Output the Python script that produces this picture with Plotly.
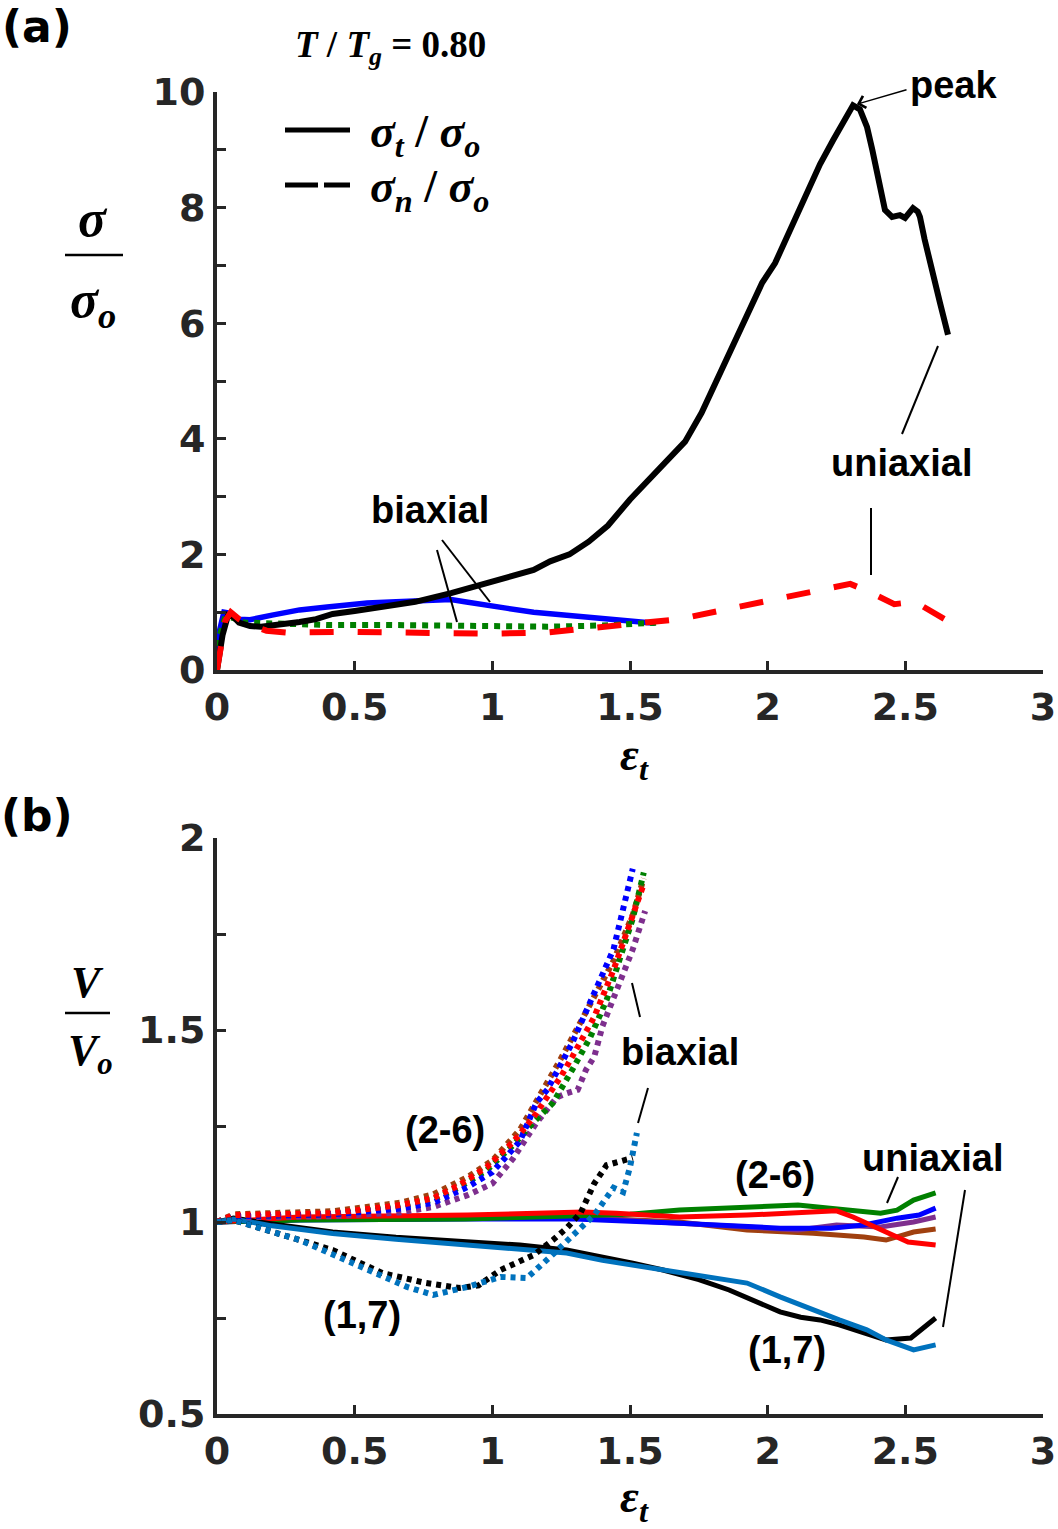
import plotly.graph_objects as go

W, H = 1058, 1529

# ---------------- Panel (a) data ----------------
a_uni_t_x = [0, 0.02, 0.04, 0.06, 0.08, 0.12, 0.16, 0.22, 0.30, 0.36, 0.42, 0.50, 0.60, 0.72, 0.85, 0.92,
             0.99, 1.07, 1.15, 1.21, 1.28, 1.35, 1.42, 1.50, 1.56, 1.62, 1.70, 1.76, 1.80, 1.856, 1.90,
             1.936, 1.98, 2.027, 2.07, 2.10, 2.143, 2.19, 2.238, 2.28, 2.31, 2.335, 2.361, 2.38, 2.397,
             2.415, 2.426, 2.452, 2.48, 2.499, 2.515, 2.528, 2.545, 2.553, 2.57, 2.59, 2.626, 2.655]
a_uni_t_y = [0, 0.6, 0.95, 0.92, 0.82, 0.76, 0.75, 0.78, 0.83, 0.88, 0.97, 1.02, 1.09, 1.18, 1.33, 1.42,
             1.50, 1.62, 1.73, 1.88, 2.00, 2.22, 2.50, 2.95, 3.25, 3.55, 3.95, 4.45, 4.85, 5.40, 5.85,
             6.26, 6.70, 7.04, 7.50, 7.85, 8.25, 8.75, 9.17, 9.55, 9.77, 9.70, 9.39, 9.00, 8.65,
             8.20, 7.96, 7.84, 7.87, 7.82, 7.92, 7.99, 7.93, 7.84, 7.45, 7.09, 6.35, 5.80]

a_bi_t_x = [0, 0.01, 0.025, 0.05, 0.08, 0.12, 0.2, 0.3, 0.4, 0.545, 0.65, 0.72, 0.85, 0.9, 0.97,
            1.05, 1.15, 1.27, 1.35, 1.45, 1.52, 1.59]
a_bi_t_y = [0, 0.7, 1.0, 0.98, 0.88, 0.87, 0.95, 1.04, 1.09, 1.16, 1.18, 1.19, 1.22, 1.18, 1.12,
            1.07, 1.00, 0.95, 0.93, 0.88, 0.86, 0.81]

a_bi_n_x = [0, 0.01, 0.03, 0.06, 0.1, 0.2, 0.4, 0.6, 0.85, 1.0, 1.2, 1.4, 1.6]
a_bi_n_y = [0, 0.6, 0.92, 0.9, 0.82, 0.8, 0.78, 0.78, 0.77, 0.74, 0.75, 0.77, 0.82]

a_uni_n_x = [0, 0.015, 0.03, 0.05, 0.08, 0.12, 0.18, 0.25, 0.5, 0.8, 1.0, 1.2, 1.28, 1.45, 1.6, 1.68,
             1.85, 2.02, 2.19, 2.30, 2.37, 2.46, 2.535, 2.615, 2.66]
a_uni_n_y = [0, 0.4, 0.85, 1.0, 0.88, 0.78, 0.68, 0.65, 0.66, 0.64, 0.63, 0.65, 0.69, 0.75, 0.83, 0.88,
             1.05, 1.21, 1.38, 1.49, 1.35, 1.14, 1.18, 0.97, 0.83]

# ---------------- Panel (b) data ----------------
# uniaxial (solid)
b_uni_black_x = [0, 0.06, 0.2, 0.42, 0.65, 0.91, 1.1, 1.27, 1.4, 1.51, 1.62, 1.75, 1.86, 1.95, 2.045,
                 2.12, 2.19, 2.26, 2.36, 2.43, 2.52, 2.56, 2.61]
b_uni_black_y = [1.0, 1.01, 0.995, 0.974, 0.96, 0.948, 0.94, 0.927, 0.91, 0.893, 0.875, 0.85, 0.823, 0.795,
                 0.766, 0.752, 0.745, 0.732, 0.711, 0.693, 0.698, 0.72, 0.75]
b_uni_lblue_x = [0, 0.06, 0.2, 0.42, 0.65, 0.91, 1.1, 1.27, 1.4, 1.51, 1.62, 1.75, 1.925, 2.045, 2.165,
                 2.26, 2.36, 2.43, 2.53, 2.61]
b_uni_lblue_y = [1.0, 1.008, 0.99, 0.97, 0.955, 0.94, 0.93, 0.919, 0.9, 0.888, 0.877, 0.862, 0.841, 0.805,
                 0.77, 0.745, 0.719, 0.693, 0.667, 0.68]
b_uni_green_x = [0, 0.3, 0.9, 1.2, 1.5, 1.68, 1.925, 2.11, 2.29, 2.41, 2.47, 2.53, 2.61]
b_uni_green_y = [1.0, 1.005, 1.008, 1.013, 1.02, 1.031, 1.039, 1.044, 1.031, 1.023, 1.031, 1.057, 1.076]
b_uni_red_x = [0, 0.3, 0.91, 1.33, 1.45, 1.68, 1.925, 2.11, 2.25, 2.31, 2.41, 2.51, 2.61]
b_uni_red_y = [1.0, 1.013, 1.018, 1.026, 1.023, 1.013, 1.018, 1.023, 1.029, 1.013, 0.979, 0.948, 0.940]
b_uni_blue_x = [0, 0.3, 0.9, 1.3, 1.68, 2.045, 2.23, 2.35, 2.47, 2.55, 2.61]
b_uni_blue_y = [1.0, 1.005, 1.008, 1.008, 0.997, 0.984, 0.984, 0.992, 1.01, 1.018, 1.036]
b_uni_purple_x = [0, 0.3, 1.27, 1.51, 1.68, 1.925, 2.11, 2.25, 2.41, 2.53, 2.61]
b_uni_purple_y = [1.0, 1.008, 1.013, 1.005, 0.997, 0.987, 0.979, 0.992, 0.987, 1.0, 1.013]
b_uni_brown_x = [0, 0.3, 1.27, 1.51, 1.68, 1.925, 2.165, 2.35, 2.43, 2.53, 2.61]
b_uni_brown_y = [1.0, 1.008, 1.013, 1.005, 1.0, 0.979, 0.971, 0.961, 0.953, 0.974, 0.982]

# biaxial (dotted)
b_bi_red_x = [0, 0.06, 0.42, 0.665, 0.785, 0.88, 0.98, 1.075, 1.15, 1.20, 1.25, 1.29, 1.37, 1.44, 1.49, 1.55]
b_bi_red_y = [1.0, 1.018, 1.023, 1.044, 1.062, 1.096, 1.143, 1.208, 1.273, 1.325, 1.38, 1.43, 1.534, 1.656,
              1.76, 1.88]
b_bi_blue_x = [0, 0.06, 0.42, 0.665, 0.785, 0.91, 1.0, 1.1, 1.16, 1.20, 1.29, 1.37, 1.44, 1.51]
b_bi_blue_y = [1.0, 1.015, 1.02, 1.035, 1.05, 1.091, 1.13, 1.21, 1.31, 1.345, 1.466, 1.60, 1.71, 1.92]
b_bi_green_x = [0, 0.06, 0.42, 0.665, 0.785, 0.88, 0.98, 1.075, 1.15, 1.22, 1.29, 1.355, 1.415, 1.46,
                1.51, 1.55]
b_bi_green_y = [1.0, 1.015, 1.02, 1.04, 1.058, 1.09, 1.135, 1.20, 1.26, 1.31, 1.396, 1.48, 1.578, 1.68,
                1.79, 1.91]
b_bi_brown_x = [0, 0.06, 0.42, 0.665, 0.785, 0.91, 1.0, 1.1, 1.245, 1.32, 1.44, 1.51, 1.55]
b_bi_brown_y = [1.0, 1.02, 1.028, 1.05, 1.072, 1.117, 1.16, 1.24, 1.42, 1.518, 1.68, 1.80, 1.895]
b_bi_purple_x = [0, 0.06, 0.42, 0.665, 0.785, 0.91, 1.0, 1.075, 1.16, 1.235, 1.27, 1.31, 1.34, 1.37,
                 1.40, 1.46, 1.51, 1.555]
b_bi_purple_y = [1.0, 1.012, 1.015, 1.025, 1.039, 1.07, 1.10, 1.165, 1.258, 1.325, 1.335, 1.344, 1.396,
                 1.43, 1.51, 1.62, 1.71, 1.81]
b_bi_black_x = [0, 0.06, 0.18, 0.42, 0.60, 0.76, 0.88, 0.95, 1.03, 1.15, 1.22, 1.27, 1.32, 1.37, 1.415,
                1.46, 1.51]
b_bi_black_y = [1.0, 1.005, 0.979, 0.927, 0.867, 0.841, 0.828, 0.835, 0.875, 0.914, 0.953, 0.984, 1.023,
                1.10, 1.148, 1.156, 1.167]
b_bi_lblue_x = [0, 0.06, 0.30, 0.545, 0.69, 0.785, 0.91, 1.03, 1.125, 1.21, 1.27, 1.37, 1.44, 1.475,
                1.50, 1.525]
b_bi_lblue_y = [1.0, 1.005, 0.953, 0.875, 0.831, 0.81, 0.831, 0.857, 0.854, 0.909, 0.948, 1.018, 1.089,
                1.078, 1.143, 1.232]

# tick labels
x_tickvals = [0, 0.5, 1, 1.5, 2, 2.5, 3]
x_ticktext = ["0", "0.5", "1", "1.5", "2", "2.5", "3"]
ya_tickvals = list(range(0, 11))
ya_ticktext = ["0", "", "2", "", "4", "", "6", "", "8", "", "10"]
yb_tickvals = [0.5, 0.75, 1.0, 1.25, 1.5, 1.75, 2.0]
yb_ticktext = ["0.5", "", "1", "", "1.5", "", "2"]

BLUE = "#0000FF"
GREEN = "#008000"
RED = "#FF0000"
BROWN = "#A0400F"
PURPLE = "#7E2F8E"
LBLUE = "#0072BD"
BLACK = "#000000"


def px(x):
    return x / W


def py(y):
    return 1 - y / H


fig = go.Figure()


def add(x, y, color, width, dash, xa, ya):
    fig.add_trace(go.Scatter(x=x, y=y, mode="lines", showlegend=False, hoverinfo="skip",
                             line=dict(color=color, width=width, dash=dash),
                             xaxis=xa, yaxis=ya))


# panel (a)
add(a_bi_t_x, a_bi_t_y, BLUE, 5.5, "solid", "x", "y")
add(a_bi_n_x, a_bi_n_y, GREEN, 6, "6px,6px", "x", "y")
add(a_uni_t_x, a_uni_t_y, BLACK, 6, "solid", "x", "y")
add(a_uni_n_x, a_uni_n_y, RED, 6, "24px,24px", "x", "y")

# panel (b) uniaxial solid
for xs, ys, c in [(b_uni_brown_x, b_uni_brown_y, BROWN), (b_uni_purple_x, b_uni_purple_y, PURPLE),
                  (b_uni_blue_x, b_uni_blue_y, BLUE), (b_uni_green_x, b_uni_green_y, GREEN),
                  (b_uni_red_x, b_uni_red_y, RED), (b_uni_black_x, b_uni_black_y, BLACK),
                  (b_uni_lblue_x, b_uni_lblue_y, LBLUE)]:
    add(xs, ys, c, 5, "solid", "x2", "y2")
# panel (b) biaxial dotted
for xs, ys, c in [(b_bi_purple_x, b_bi_purple_y, PURPLE), (b_bi_brown_x, b_bi_brown_y, BROWN),
                  (b_bi_green_x, b_bi_green_y, GREEN), (b_bi_blue_x, b_bi_blue_y, BLUE),
                  (b_bi_red_x, b_bi_red_y, RED), (b_bi_black_x, b_bi_black_y, BLACK),
                  (b_bi_lblue_x, b_bi_lblue_y, LBLUE)]:
    add(xs, ys, c, 6, "5px,5px", "x2", "y2")

AX = "#262626"
tickfont = dict(family="DejaVu Sans", size=38, color=AX, weight="bold")
axis_common = dict(showline=True, linecolor=AX, linewidth=4, ticks="inside", ticklen=9, tickwidth=3,
                   tickcolor=AX, showgrid=False, zeroline=False, tickfont=tickfont, mirror=False,
                   automargin=False)

fig.update_layout(
    width=W, height=H, margin=dict(l=0, r=0, t=0, b=0, pad=0, autoexpand=False),
    paper_bgcolor="white", plot_bgcolor="white",
    xaxis=dict(domain=[px(217), px(1043)], range=[0, 3], anchor="y",
               tickvals=x_tickvals, ticktext=x_ticktext, **axis_common),
    yaxis=dict(domain=[py(670), py(92)], range=[0, 10], anchor="x",
               tickvals=ya_tickvals, ticktext=ya_ticktext, **axis_common),
    xaxis2=dict(domain=[px(217), px(1043)], range=[0, 3], anchor="y2",
                tickvals=x_tickvals, ticktext=x_ticktext, **axis_common),
    yaxis2=dict(domain=[py(1414), py(838)], range=[0.5, 2], anchor="x2",
                tickvals=yb_tickvals, ticktext=yb_ticktext, **axis_common),
)

ann = []
shapes = []


def text(x, y, s, size, family="Liberation Sans", xanchor="center", color="#000000"):
    ann.append(dict(x=px(x), y=py(y), xref="paper", yref="paper", text=s, showarrow=False,
                    xanchor=xanchor, yanchor="middle",
                    font=dict(family=family, size=size, color=color)))


def seg(x0, y0, x1, y1, width=2, dash="solid", color="#000000"):
    shapes.append(dict(type="line", xref="paper", yref="paper", x0=px(x0), y0=py(y0), x1=px(x1),
                       y1=py(y1), line=dict(color=color, width=width, dash=dash)))


# panel labels
text(37, 27, "<b>(a)</b>", 44, family="DejaVu Sans")
text(37, 815, "<b>(b)</b>", 44, family="DejaVu Sans")

# title
text(390, 47, "<b><i>T</i> / <i>T</i><sub><i>g</i></sub> = 0.80</b>", 37, family="Liberation Serif")

# legend
seg(285, 130, 350, 130, width=5)
seg(285, 185, 350, 185, width=5, dash="33px,6px")
text(368, 135, "<b><i>σ</i><sub><i>t</i></sub> / <i>σ</i><sub><i>o</i></sub></b>", 46,
     family="Liberation Serif", xanchor="left")
text(368, 190, "<b><i>σ</i><sub><i>n</i></sub> / <i>σ</i><sub><i>o</i></sub></b>", 46,
     family="Liberation Serif", xanchor="left")

# y-axis fraction labels
text(93, 218, "<b><i>σ</i></b>", 52, family="Liberation Serif")
seg(65, 255, 123, 255, width=2.5)
text(93, 303, "<b><i>σ</i><sub><i>o</i></sub></b>", 52, family="Liberation Serif")
text(87, 982, "<b><i>V</i></b>", 44, family="Liberation Serif")
seg(65, 1013, 110, 1013, width=2.5)
text(90, 1053, "<b><i>V</i><sub><i>o</i></sub></b>", 44, family="Liberation Serif")

# x-axis titles
text(634, 758, "<b><i>ε</i><sub><i>t</i></sub></b>", 46, family="Liberation Serif")
text(634, 1500, "<b><i>ε</i><sub><i>t</i></sub></b>", 46, family="Liberation Serif")

# panel (a) annotations
text(430, 510, "<b>biaxial</b>", 38)
seg(437, 550, 457, 622)
seg(442, 540, 490, 602)
text(902, 463, "<b>uniaxial</b>", 38)
seg(938, 346, 902, 434)
seg(871, 508, 871, 575)
text(953, 85, "<b>peak</b>", 38)
ann.append(dict(x=2.31, y=9.77, xref="x", yref="y", text="", showarrow=True, ax=55, ay=-16,
                arrowhead=4, arrowsize=1.6, arrowwidth=1.5, arrowcolor="#000000", standoff=4))

# panel (b) annotations
text(680, 1052, "<b>biaxial</b>", 38)
seg(632, 983, 640, 1017)
seg(648, 1088, 638, 1123)
text(445, 1130, "<b>(2-6)</b>", 38)
text(775, 1175, "<b>(2-6)</b>", 38)
text(933, 1158, "<b>uniaxial</b>", 38)
seg(898, 1177, 887, 1203)
seg(965, 1190, 943, 1327)
text(362, 1315, "<b>(1,7)</b>", 38)
text(787, 1350, "<b>(1,7)</b>", 38)

fig.update_layout(annotations=ann, shapes=shapes)

fig.write_html("out.html")
